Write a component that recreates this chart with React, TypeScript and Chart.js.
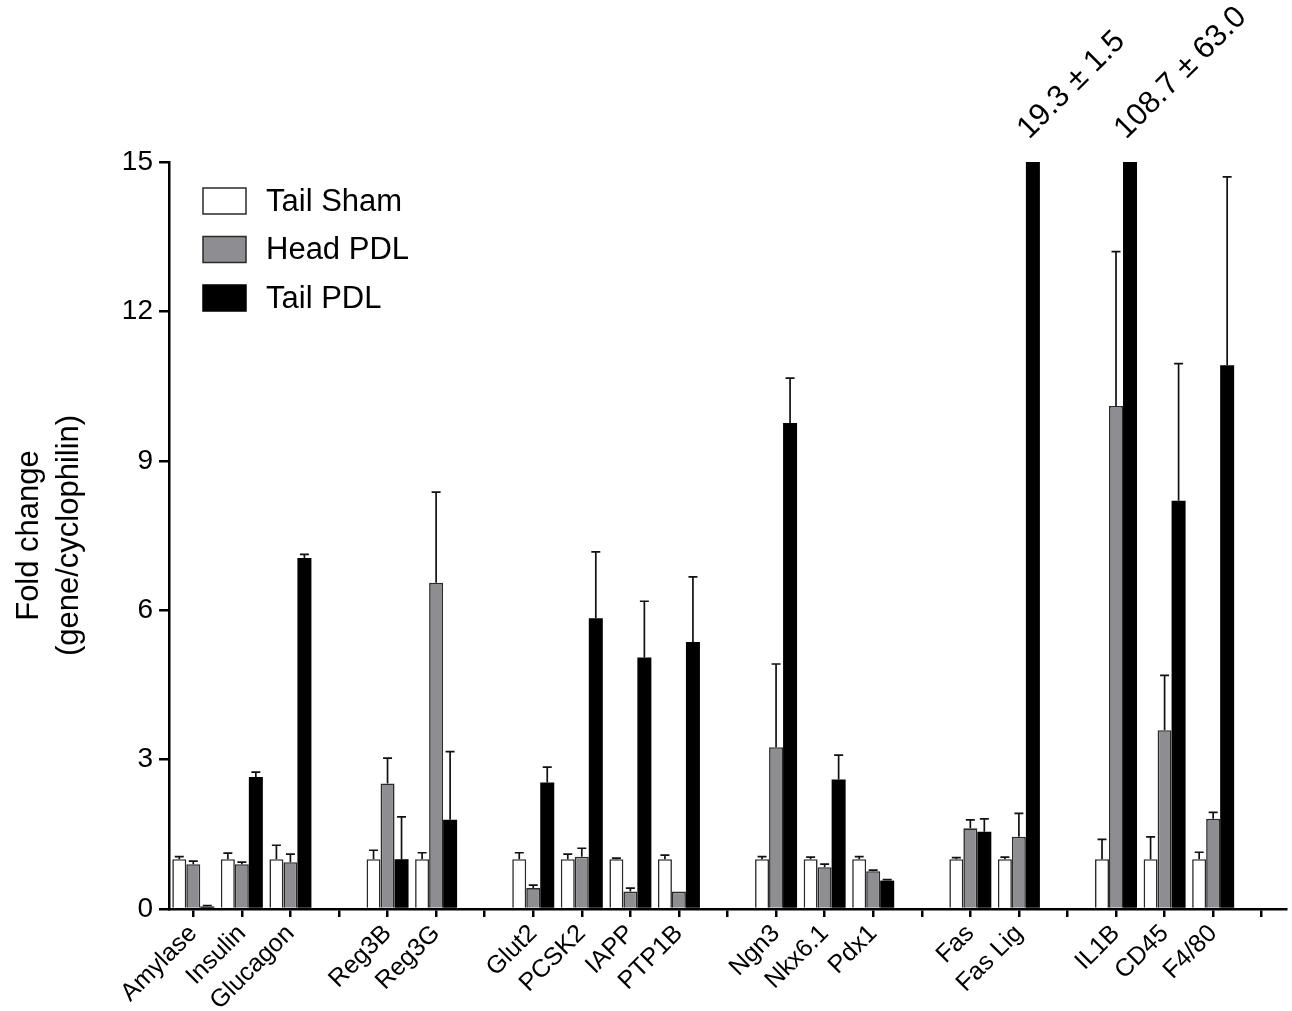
import React, { useEffect, useRef } from "react";
import { Chart, registerables } from "chart.js";

Chart.register(...registerables);

// ---- data ----
const CATEGORIES = [
  "Amylase", "Insulin", "Glucagon", "",
  "Reg3B", "Reg3G", "",
  "Glut2", "PCSK2", "IAPP", "PTP1B", "",
  "Ngn3", "Nkx6.1", "Pdx1", "",
  "Fas", "Fas Lig", "",
  "IL1B", "CD45", "F4/80", "",
];

const SERIES_NAMES = ["Tail Sham", "Head PDL", "Tail PDL"];

const TAIL_SHAM = [1.0, 1.0, 1.0, null, 1.0, 1.0, null, 1.0, 1.0, 1.0, 1.0, null, 1.0, 1.0, 1.0, null, 1.0, 1.0, null, 1.0, 1.0, 1.0, null];
const TAIL_SHAM_ERR = [0.05, 0.12, 0.28, null, 0.18, 0.13, null, 0.13, 0.1, 0.02, 0.08, null, 0.05, 0.04, 0.05, null, 0.03, 0.04, null, 0.4, 0.45, 0.14, null];

const HEAD_PDL = [0.9, 0.9, 0.94, null, 2.52, 6.55, null, 0.42, 1.05, 0.35, 0.35, null, 3.25, 0.84, 0.76, null, 1.62, 1.45, null, 10.1, 3.59, 1.81, null];
const HEAD_PDL_ERR = [0.06, 0.04, 0.16, null, 0.51, 1.82, null, 0.06, 0.17, 0.07, 0, null, 1.67, 0.06, 0.02, null, 0.17, 0.47, null, 3.1, 1.1, 0.13, null];

const TAIL_PDL = [0.05, 2.65, 7.05, null, 1.0, 1.79, null, 2.54, 5.84, 5.05, 5.36, null, 9.76, 2.6, 0.57, null, 1.55, 19.3, null, 108.7, 8.2, 10.92, null];
const TAIL_PDL_ERR = [0.02, 0.1, 0.07, null, 0.85, 1.37, null, 0.31, 1.33, 1.13, 1.31, null, 0.9, 0.49, 0.02, null, 0.26, 1.5, null, 63.0, 2.75, 3.78, null];

const Y_MIN = 0;
const Y_MAX = 15;
const Y_STEP = 3;
const Y_TITLE = ["Fold change", "(gene/cyclophilin)"];

// ---- styles ----
const FONT = '"Liberation Sans", Arial, Helvetica, sans-serif';
const FILLS = ["#ffffff", "#8d8d92", "#000000"];
const BORDERS = ["#2a2a2a", "#2a2a2a", "#000000"];
const ERRS = [TAIL_SHAM_ERR, HEAD_PDL_ERR, TAIL_PDL_ERR];

const W = 1292;
const H = 1011;
const AREA_LEFT = 169;
const AREA_TOP = 162;
const AREA_BOTTOM = 909;
const RIGHT_PAD = 6;

const errorBarPlugin = {
  id: "errorBars",
  afterDatasetsDraw(chart: any) {
    const ctx = chart.ctx;
    const y = chart.scales.y;
    ctx.save();
    ctx.strokeStyle = "#111";
    ctx.lineWidth = 1.7;
    chart.data.datasets.forEach((ds: any, i: number) => {
      const meta = chart.getDatasetMeta(i);
      const errs = ERRS[i];
      meta.data.forEach((el: any, j: number) => {
        const v = ds.data[j];
        const e = errs[j];
        if (v == null || e == null || e <= 0) return;
        const top = v + e;
        if (v >= Y_MAX) return;
        const y1 = y.getPixelForValue(v);
        const y2 = y.getPixelForValue(Math.min(top, Y_MAX));
        ctx.beginPath();
        ctx.moveTo(el.x, y1);
        ctx.lineTo(el.x, y2);
        if (top <= Y_MAX) {
          ctx.moveTo(el.x - 4.5, y2);
          ctx.lineTo(el.x + 4.5, y2);
        }
        ctx.stroke();
      });
    });
    ctx.restore();
  },
};

const overflowLabelPlugin = {
  id: "overflowLabels",
  afterDatasetsDraw(chart: any) {
    const ctx = chart.ctx;
    const area = chart.chartArea;
    ctx.save();
    ctx.fillStyle = "#000";
    ctx.font = `31px ${FONT}`;
    ctx.textAlign = "left";
    ctx.textBaseline = "alphabetic";
    chart.data.datasets.forEach((ds: any, i: number) => {
      const meta = chart.getDatasetMeta(i);
      meta.data.forEach((el: any, j: number) => {
        const v = ds.data[j];
        if (v == null || v <= Y_MAX) return;
        const txt = `${v.toFixed(1)} ± ${ERRS[i][j].toFixed(1)}`;
        ctx.save();
        ctx.translate(el.x - 4, area.top - 22);
        ctx.rotate(-Math.PI / 4);
        ctx.fillText(txt, 0, 0);
        ctx.restore();
      });
    });
    ctx.restore();
  },
};

const legendPlugin = {
  id: "boxLegend",
  afterDraw(chart: any) {
    const ctx = chart.ctx;
    ctx.save();
    ctx.font = `31px ${FONT}`;
    ctx.textBaseline = "middle";
    ctx.textAlign = "left";
    chart.data.datasets.forEach((ds: any, i: number) => {
      const cy = 201 + i * 48.5;
      ctx.fillStyle = ds.backgroundColor;
      ctx.fillRect(203, cy - 13, 43, 26);
      ctx.strokeStyle = ds.borderColor;
      ctx.lineWidth = 1.5;
      ctx.strokeRect(203, cy - 13, 43, 26);
      ctx.fillStyle = "#000";
      ctx.fillText(ds.label, 266, cy + 1);
    });
    ctx.restore();
  },
};

export default function App() {
  const ref = useRef<HTMLCanvasElement | null>(null);

  useEffect(() => {
    if (!ref.current) return;
    const seriesData = [TAIL_SHAM, HEAD_PDL, TAIL_PDL];
    const chart = new Chart(ref.current, {
      type: "bar",
      data: {
        labels: CATEGORIES,
        datasets: SERIES_NAMES.map((name, i) => ({
          label: name,
          data: seriesData[i] as any,
          backgroundColor: FILLS[i],
          borderColor: BORDERS[i],
          borderWidth: i === 2 ? 0 : 1.6,
          borderSkipped: "bottom",
          categoryPercentage: 0.865,
          barPercentage: 1.0,
          clip: 0 as any,
        })),
      },
      options: {
        animation: false,
        responsive: false,
        devicePixelRatio: 1,
        layout: { padding: { left: 0, top: AREA_TOP, right: RIGHT_PAD, bottom: 0 } },
        plugins: {
          legend: { display: false },
          tooltip: { enabled: false },
          title: { display: false },
        },
        scales: {
          x: {
            type: "category",
            offset: true,
            grid: {
              display: true,
              drawOnChartArea: false,
              drawTicks: true,
              offset: false,
              tickLength: 8,
              lineWidth: 2.5,
              color: "#000",
            },
            border: { display: true, color: "#000", width: 2.5 },
            ticks: {
              autoSkip: false,
              minRotation: 45,
              maxRotation: 45,
              color: "#000",
              padding: 2,
              font: { family: FONT, size: 25 },
            },
            afterFit: (s: any) => {
              s.height = H - AREA_BOTTOM;
            },
          },
          y: {
            min: Y_MIN,
            max: Y_MAX,
            grid: {
              display: true,
              drawOnChartArea: false,
              drawTicks: true,
              tickLength: 10,
              lineWidth: 2.5,
              color: "#000",
            },
            border: { display: true, color: "#000", width: 2.5 },
            ticks: {
              stepSize: Y_STEP,
              color: "#000",
              padding: 6,
              font: { family: FONT, size: 28 },
            },
            title: {
              display: true,
              text: Y_TITLE,
              color: "#000",
              font: { family: FONT, size: 31, lineHeight: 1.28 },
              padding: { top: 10, bottom: 0 },
            },
            afterFit: (s: any) => {
              s.width = AREA_LEFT;
            },
          },
        },
      },
      plugins: [errorBarPlugin, overflowLabelPlugin, legendPlugin],
    });
    return () => chart.destroy();
  }, []);

  return (
    <div style={{ position: "absolute", left: 0, top: 0, width: W, height: H, background: "#fff" }}>
      <canvas ref={ref} width={W} height={H} style={{ width: W, height: H, display: "block" }} />
    </div>
  );
}
